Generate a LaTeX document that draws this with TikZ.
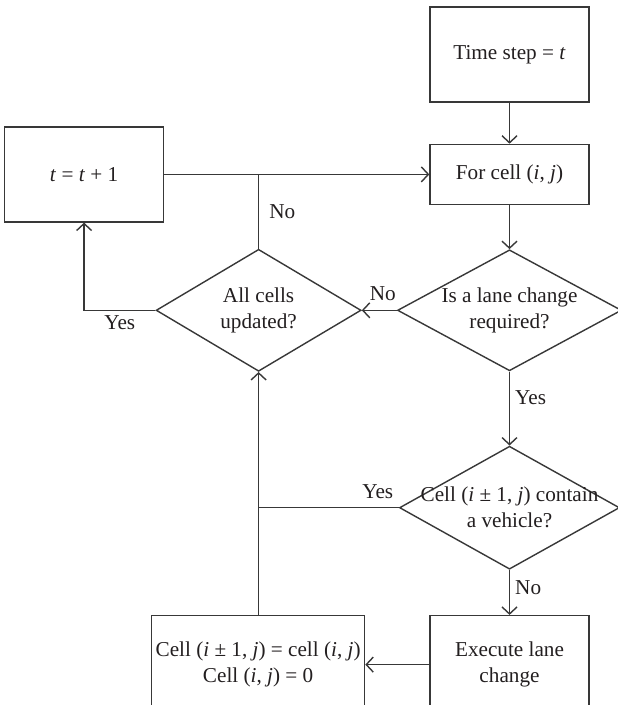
\documentclass[tikz,border=0pt]{standalone}
\usepackage{fontspec}
\setmainfont{Liberation Serif}
\usepackage{xcolor}
\definecolor{linecolor}{HTML}{383838}
\definecolor{textcolor}{HTML}{231F20}
\usepackage{tikz}
\usetikzlibrary{positioning,arrows.meta,shapes.geometric}
\tikzset{
    process/.style={
        rectangle,
        draw=linecolor,
        text=textcolor,
        minimum width=79.5pt,
        minimum height=47.5pt,
        align=center,
        inner sep=0pt,
        line width=0.7pt,
    },
    decision/.style={
        diamond,
        draw=linecolor,
        text=textcolor,
        minimum width=112pt,
        minimum height=60.5pt,
        inner sep=0pt,
        line width=0.7pt,
    },
    flow/.style={
        -{Straight Barb[length=3.5pt,width=7.5pt]},
        line width=0.7pt,
        linecolor,
    },
    joinline/.style={
        line width=0.7pt,
        linecolor,
    },
    answer/.style={
        text=textcolor,
        inner sep=2.5pt,
    },
}

\begin{document}
\begin{tikzpicture}[x=0.5pt,y=-0.5pt,font=\fontsize{10.6}{13}\selectfont]
    \fill[white] (0,0) rectangle (617,705);
    \useasboundingbox (0,0) rectangle (617,705);

    % Start of the time step
    \node[process] (timestep) at (509.5,54.5) {Time step = \textit{t}};

    % Loop over the cells
    \node[process, below=20.5pt of timestep, minimum height=30pt] (forcell) {For cell (\textit{i}, \textit{j})};

    % Lane change decision
    \node[decision, below=22pt of forcell,
          label={[align=center, text=textcolor]center:Is a lane change\\required?}] (lanereq) {};

    % Target cell occupied?
    \node[decision, below=37pt of lanereq, minimum width=110pt, minimum height=61.5pt,
          label={[align=center, text=textcolor]center:Cell (\textit{i} ± 1, \textit{j}) contain\\a vehicle?}] (occupied) {};

    % Execute lane change
    \node[process, below=22.5pt of occupied, minimum height=49pt] (execute) {Execute lane\\change};

    % Move vehicle to new cell
    \node[process, left=32pt of execute, minimum width=106.5pt, minimum height=49pt] (update)
        {Cell (\textit{i} ± 1, \textit{j}) = cell (\textit{i}, \textit{j})\\Cell (\textit{i}, \textit{j}) = 0};

    % All cells done?
    \node[decision, left=17.5pt of lanereq, minimum width=102.5pt, minimum height=61pt,
          label={[align=center, text=textcolor]center:All cells\\updated?}] (allcells) {};

    % Next time step
    \node[process, left=132.5pt of forcell] (incr) {\textit{t} = \textit{t} + 1};

    % Main flow
    \draw[flow] (timestep) -- (forcell);
    \draw[flow] (incr) -- (forcell);
    \draw[flow] (forcell) -- (lanereq);
    \draw[flow] (lanereq) -- node[answer, right, pos=0.35] {Yes} (occupied);
    \draw[flow] (occupied) -- node[answer, right, pos=0.4] {No} (execute);
    \draw[flow] (execute) -- (update);

    % Back to the cell check
    \draw[flow] (lanereq.west) -- node[answer, above, inner sep=4.5pt, pos=0.4] {No} (allcells.east);
    \draw[flow] (allcells.south |- update.north) -- (allcells.south);
    \draw[joinline] (occupied.west) -- node[answer, above, inner sep=4pt, pos=0.15] {Yes} (allcells.south |- occupied.west);

    % Loop control
    \draw[joinline] (allcells.north) -- node[answer, right, inner sep=5pt] {No} (allcells.north |- incr.east);
    \draw[flow] (allcells.west) -| node[answer, below, pos=0.25] {Yes} (incr.south);

\end{tikzpicture}
\end{document}
